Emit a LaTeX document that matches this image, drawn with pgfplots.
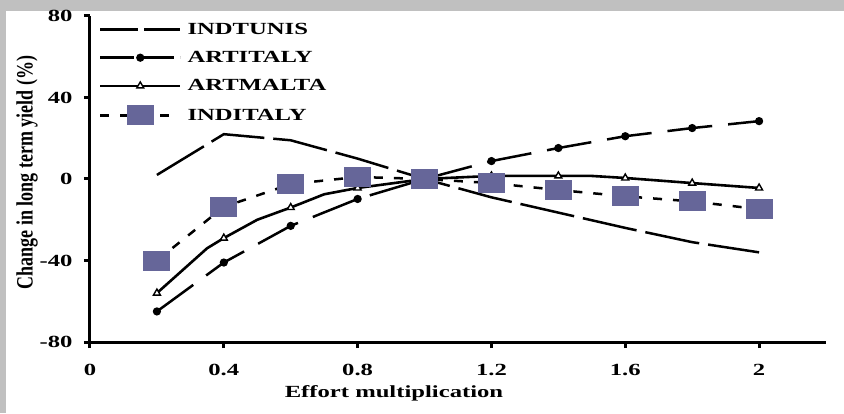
\documentclass[border=0pt]{standalone}
\usepackage{graphicx}
\usepackage{pgfplots}
\pgfplotsset{compat=1.18}
\usepackage{fontspec}
\setmainfont{Liberation Serif}[FakeStretch=1.45]
\newfontfamily\ylfont{Liberation Serif}
\definecolor{sq}{RGB}{102,102,153}
\definecolor{framegray}{RGB}{192,192,192}
\begin{document}
\begin{tikzpicture}[x=1pt,y=1pt]
\fill[white] (0,0) rectangle (844,413);
\fill[framegray] (0,402) rectangle (844,413);
\fill[framegray] (0,0) rectangle (6,413);
\begin{axis}[
  at={(90pt,71pt)}, anchor=south west,
  scale only axis, width=736pt, height=326pt,
  xmin=0, xmax=2.2, ymin=-80, ymax=80,
  axis lines=left, axis line style={-, line width=3pt},
  xtick={0,0.4,0.8,1.2,1.6,2}, ytick={-80,-40,0,40,80},
  tick align=outside, major tick length=6pt,
  tick style={line width=3pt, black},
  /pgf/number format/assume math mode=true,
  ticklabel style={font=\bfseries\fontsize{17}{17}\selectfont},
  xticklabel style={yshift=-13pt},
  yticklabel style={xshift=-8pt},
  xlabel={Effort multiplication},
  xlabel style={font=\bfseries\fontsize{17}{17}\selectfont, at={(axis description cs:0.413,-0.156)}, anchor=center},
  ylabel={\scalebox{1}[1.3]{\ylfont\bfseries\fontsize{18}{18}\selectfont Change in long term yield (\%)}},
  ylabel style={at={(axis description cs:-0.0856,0.52)}, anchor=center},
  legend cell align=left,
  legend image code/.code={\draw[mark repeat=2,mark phase=2,#1] plot coordinates {(0pt,0pt) (40pt,0pt) (80pt,0pt)};},
  legend style={at={(axis description cs:0.012,0.985)}, anchor=north west, draw=none, fill=none,
    font=\bfseries\fontsize{17}{17}\selectfont, row sep=11.5pt, inner sep=0pt,
    nodes={inner sep=2pt},
    /tikz/every odd column/.append style={column sep=4pt}},
]
% INDTUNIS
\addplot[black, line width=2.5pt, dash pattern=on 55pt off 9pt, forget plot]
  coordinates {(0.2,2) (0.4,22) (0.6,19) (0.8,10) (1.0,0) (1.2,-9) (1.4,-16.5) (1.6,-24) (1.8,-31) (2.0,-36)};
% ARTITALY
\addplot[black, line width=2.5pt, dash pattern=on 45pt off 16pt, mark=*, mark size=2.8pt, mark options={solid}, forget plot]
  coordinates {(0.2,-65) (0.4,-41) (0.6,-23) (0.8,-9.8) (1.0,0) (1.2,8.8) (1.4,15.2) (1.6,21) (1.8,25) (2.0,28.4)};
% ARTMALTA line
\addplot[black, line width=2.6pt, forget plot]
  coordinates {(0.2,-56) (0.35,-34) (0.4,-29) (0.5,-20) (0.6,-14) (0.7,-7.5) (0.8,-4.4) (1.0,0) (1.2,1.5) (1.4,1.5) (1.5,1.5) (1.6,0.5) (1.8,-2) (2.0,-4.4)};
% ARTMALTA markers
\addplot[only marks, mark=triangle*, mark size=4pt, mark options={fill=white, draw=black, line width=1.4pt}, forget plot]
  coordinates {(0.2,-56) (0.4,-29) (0.6,-14) (0.8,-4.4) (1.2,1.5) (1.4,1.5) (1.6,0.5) (1.8,-2) (2.0,-4.4)};
% INDITALY line
\addplot[black, line width=2.5pt, dash pattern=on 9pt off 11pt, forget plot]
  coordinates {(0.2,-40) (0.4,-13.7) (0.6,-2.5) (0.8,1) (1.0,0) (1.2,-2) (1.4,-5.4) (1.6,-8.5) (1.8,-11) (2.0,-14.8)};
% INDITALY squares
\addplot[only marks, mark=square*, mark size=9.5pt, mark options={fill=sq, draw=sq, line width=0pt, xscale=1.37}, forget plot]
  coordinates {(0.2,-40) (0.4,-13.7) (0.6,-2.5) (0.8,1) (1.0,0) (1.2,-2) (1.4,-5.4) (1.6,-8.5) (1.8,-11) (2.0,-14.8)};

\addlegendimage{black, line width=2.5pt, dash pattern=on 38pt off 6pt}
\addlegendentry{INDTUNIS}
\addlegendimage{black, line width=2.5pt, dash pattern=on 34pt off 6pt, mark=*, mark size=2.8pt, mark options={solid}}
\addlegendentry{ARTITALY}
\addlegendimage{black, line width=2.5pt, mark=triangle*, mark size=4pt, mark options={fill=white, draw=black, line width=1.4pt}}
\addlegendentry{ARTMALTA}
\addlegendimage{black, line width=2.5pt, dash pattern=on 9pt off 11pt, mark=square*, mark size=9.5pt, mark options={solid, fill=sq, draw=sq, line width=0pt, xscale=1.37}}
\addlegendentry{INDITALY}
\end{axis}
\pgfresetboundingbox
\path (0,0) rectangle (844,413);
\end{tikzpicture}
\end{document}
